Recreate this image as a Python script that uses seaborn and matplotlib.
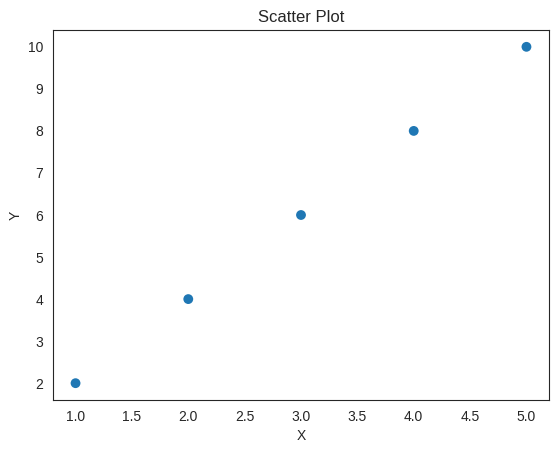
import matplotlib
matplotlib.use("Agg")
import matplotlib.pyplot as plt
import seaborn as sns
import pandas as pd

x_values = [1, 2, 3, 4, 5]
y_values = [2, 4, 6, 8, 10]

sns.set_style("white")
plt.rcParams['font.family'] = ['Liberation Sans', 'DejaVu Sans']
plt.rcParams['font.size'] = 10

df = pd.DataFrame({"X": x_values, "Y": y_values})

fig = plt.figure(figsize=(5.58, 4.49), dpi=100)
ax = fig.add_axes([53/558, 1 - 400/449, 496/558, 370/449])
sns.scatterplot(data=df, x="X", y="Y", ax=ax, s=50, color="#1f77b4", edgecolor="none")
ax.set_title("Scatter Plot", fontsize=12)
ax.set_xlabel("X", fontsize=10)
ax.set_ylabel("Y", fontsize=10)
ax.tick_params(labelsize=10)
fig.savefig("out.png", dpi=100)
